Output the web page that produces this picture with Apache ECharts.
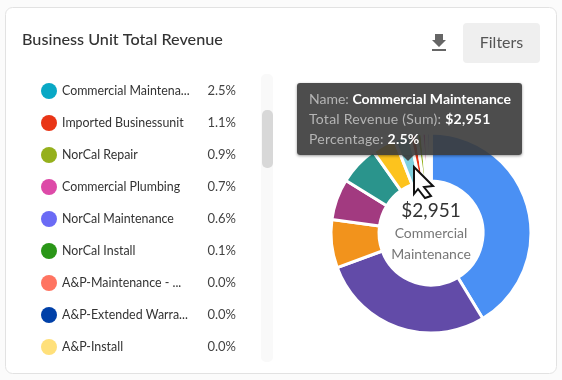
<!DOCTYPE html>
<html>
<head>
<meta charset="utf-8">
<style>
  html, body { margin: 0; padding: 0; background: #fbfbfb; }
  #chart { width: 562px; height: 380px; }
</style>
<script src="https://cdn.jsdelivr.net/npm/echarts@6/dist/echarts.min.js"></script>
</head>
<body>
<div id="chart"></div>
<script>
// the five largest units are scrolled out of the list, so their names can't be read
const sliceNames = ['Unit 1', 'Unit 2', 'Unit 3', 'Unit 4', 'Unit 5', 'Unit 6',
  'Commercial Maintenance', 'Imported Businessunit', 'NorCal Repair', 'Commercial Plumbing',
  'NorCal Maintenance', 'NorCal Install', 'A&P-Maintenance', 'A&P-Extended Warranty', 'A&P-Install'];
const sliceValues = [48860, 33120, 9180, 7870, 7540, 4590, 2951, 1298, 1062, 826, 708, 118, 20, 15, 10];
const sliceColors = ['#4a90f4', '#624ba8', '#f2931c', '#a23a80', '#2a948c', '#fdc31d',
  '#7fd0de', '#e93516', '#95b01c', '#dd4aa8', '#6b6bf5', '#2a9618', '#ff7461', '#0040a8', '#ffe07a'];

const legendNames = sliceNames.slice(6);
const legendLabels = ['Commercial Maintena...', 'Imported Businessunit', 'NorCal Repair', 'Commercial Plumbing',
  'NorCal Maintenance', 'NorCal Install', 'A&P-Maintenance - ...', 'A&P-Extended Warra...', 'A&P-Install'];
const legendPercents = ['2.5%', '1.1%', '0.9%', '0.7%', '0.6%', '0.1%', '0.0%', '0.0%', '0.0%'];
const legendColors = ['#09a8c5', '#e93516', '#95b01c', '#dd4aa8', '#6b6bf5', '#2a9618', '#ff7461', '#0040a8', '#ffe07a'];

const centerValue = '$2,951';
const centerLabel = ['Commercial', 'Maintenance'];
const hoveredIndex = 6;

const fontFamily = 'Lato, "Noto Sans", sans-serif';
const chart = echarts.init(document.getElementById('chart'), null, { renderer: 'canvas' });

chart.setOption({
  animation: false,
  backgroundColor: 'transparent',
  textStyle: { fontFamily },
  tooltip: {
    trigger: 'item',
    alwaysShowContent: true,
    transitionDuration: 0,
    showDelay: 0,
    hideDelay: 0,
    backgroundColor: 'rgba(58,58,58,0.9)',
    borderWidth: 0,
    padding: [6, 12],
    textStyle: { color: '#b5b5b5', fontSize: 14, fontFamily },
    extraCssText: 'border-radius:3px;box-shadow:0 1px 3px rgba(0,0,0,.4);line-height:20px;width:201px;white-space:nowrap;',
    position: () => [297, 83],
    formatter: (p) => {
      const pct = legendPercents[legendNames.indexOf(p.name)];
      const val = '$' + p.value.toLocaleString('en-US');
      return `<div>Name: <b style="color:#fff">${p.name}</b></div>`
        + `<div style="letter-spacing:.25px">Total Revenue (Sum): <b style="color:#fff">${val}</b></div>`
        + `<div style="letter-spacing:.25px">Percentage: <b style="color:#fff">${pct}</b></div>`
        + '<div style="position:absolute;left:105px;bottom:-6px;width:0;height:0;border-left:6px solid transparent;border-right:6px solid transparent;border-top:6px solid rgba(58,58,58,0.9)"></div>';
    }
  },
  legend: {
    orient: 'vertical',
    left: 41,
    top: 83,
    padding: 0,
    itemWidth: 16,
    itemHeight: 16,
    itemGap: 16,
    icon: 'circle',
    selectedMode: false,
    data: legendNames.map((name, i) => ({ name, itemStyle: { color: legendColors[i], borderWidth: 0 } })),
    formatter: (name) => {
      const i = legendNames.indexOf(name);
      return `{name|${legendLabels[i]}}{pct|${legendPercents[i]}}`;
    },
    textStyle: {
      rich: {
        name: { width: 146, fontSize: 12.4, color: '#333', fontFamily, height: 18 },
        pct: { width: 28, align: 'right', fontSize: 13, color: '#444', fontFamily }
      }
    }
  },
  series: [{
    type: 'pie',
    center: [431, 233],
    radius: [52, 100],
    startAngle: 90,
    clockwise: true,
    minAngle: 0,
    label: { show: false },
    labelLine: { show: false },
    emphasis: { disabled: true },
    itemStyle: { borderColor: '#fff', borderWidth: 3 },
    data: sliceNames.map((name, i) => ({ name, value: sliceValues[i], itemStyle: { color: sliceColors[i] } }))
  }],
  graphic: [
    // card
    { type: 'rect', z: -10, shape: { x: 5.5, y: 7.5, width: 551, height: 366, r: 7 }, style: { fill: '#fff', stroke: '#e2e2e2', lineWidth: 1 } },
    { type: 'text', style: { x: 22, y: 40, text: 'Business Unit Total Revenue', font: '500 16.2px ' + fontFamily, fill: '#333', verticalAlign: 'middle' } },
    // download icon
    { type: 'polygon', shape: { points: [[435, 34], [443, 34], [443, 40], [446, 40], [439, 47], [432, 40], [435, 40]] }, style: { fill: '#666' } },
    { type: 'rect', shape: { x: 432, y: 49, width: 14, height: 2 }, style: { fill: '#666' } },
    // filters button
    { type: 'rect', shape: { x: 463, y: 23, width: 77, height: 40, r: 4 }, style: { fill: '#efefef' } },
    { type: 'text', style: { x: 501.5, y: 43, text: 'Filters', font: '16px ' + fontFamily, fill: '#555', align: 'center', verticalAlign: 'middle' } },
    // list scrollbar
    { type: 'rect', z: -5, shape: { x: 261, y: 74, width: 12, height: 288, r: 5 }, style: { fill: '#f9f9f9' } },
    { type: 'rect', z: -4, shape: { x: 262, y: 110, width: 11, height: 58, r: 5 }, style: { fill: '#d8d8d8' } },
    // donut centre
    { type: 'text', style: { x: 431, y: 211, text: centerValue, font: '19px ' + fontFamily, fill: '#333', align: 'center', verticalAlign: 'middle' } },
    { type: 'text', style: { x: 431, y: 233, text: centerLabel[0], font: '14px ' + fontFamily, fill: '#777', align: 'center', verticalAlign: 'middle' } },
    { type: 'text', style: { x: 431, y: 254, text: centerLabel[1], font: '14px ' + fontFamily, fill: '#777', align: 'center', verticalAlign: 'middle' } },
    // mouse cursor
    { type: 'polygon', z: 50, shape: { points: [[414, 167], [433, 186], [424, 187], [431, 196], [425, 198], [418, 189], [414, 194]] }, style: { fill: '#fff', stroke: '#111', lineWidth: 2 } }
  ]
});

chart.dispatchAction({ type: 'showTip', seriesIndex: 0, dataIndex: hoveredIndex });
</script>
</body>
</html>
